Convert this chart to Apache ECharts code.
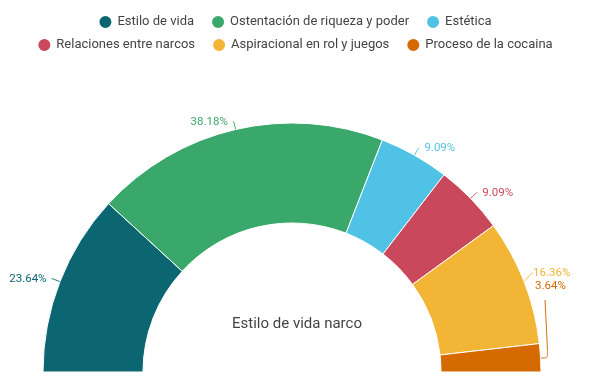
<!DOCTYPE html>
<html><head><meta charset="utf-8">
<script src="https://cdn.jsdelivr.net/npm/echarts@6/dist/echarts.min.js"></script>
<style>html,body{margin:0;padding:0;background:#fff}#c{width:589px;height:384px}</style>
</head><body><div id="c"></div>
<script>
const categories = ["Estilo de vida","Ostentación de riqueza y poder","Estética","Relaciones entre narcos","Aspiracional en rol y juegos","Proceso de la cocaina"];
const values = [23.64, 38.18, 9.09, 9.09, 16.36, 3.64];
const colors = ["#0b6672","#3aa86b","#50c2e6","#c9485b","#f2b535","#d46a00"];
const centerTitle = "Estilo de vida narco";

const chart = echarts.init(document.getElementById('c'));
const legendCommon = {
  icon: 'circle', itemWidth: 14, itemHeight: 14, itemGap: 16,
  textStyle: {fontFamily: 'Roboto', fontSize: 13, color: '#444'}, left: 'center'
};
chart.setOption({
  animation: false,
  color: colors,
  legend: [
    Object.assign({}, legendCommon, {top: 9, data: categories.slice(0,3)}),
    Object.assign({}, legendCommon, {top: 32, data: categories.slice(3)})
  ],
  title: {text: centerTitle, left: 292, top: 312, textAlign: 'center',
    textStyle: {fontFamily: 'Roboto', fontSize: 15, fontWeight: 'normal', color: '#444'}},
  series: [{
    type: 'pie',
    center: [292, 372],
    radius: [149, 249],
    startAngle: 180,
    endAngle: 0,
    avoidLabelOverlap: false,
    itemStyle: {borderColor: '#fff', borderWidth: 1},
    label: {
      show: true, position: 'outside', overflow: 'none',
      formatter: p => p.value.toFixed(2) + '%',
      color: 'inherit', fontFamily: 'Roboto', fontSize: 11.5
    },
    labelLine: {show: true, length: 8, length2: 1, smooth: 0.3, lineStyle: {width: 1}},
    labelLayout: function (p) {
      if (p.dataIndex === 5) {
        return {x: 535, y: 286, align: 'left', verticalAlign: 'middle',
          labelLinePoints: [[541, 358], [548, 358], [545, 300], [537, 291]]};
      }
      if (p.dataIndex === 4) {
        return {x: 533, y: 273, align: 'left', verticalAlign: 'middle'};
      }
    },
    data: categories.map((c, i) => ({name: c, value: values[i]}))
  }]
});
</script></body></html>
